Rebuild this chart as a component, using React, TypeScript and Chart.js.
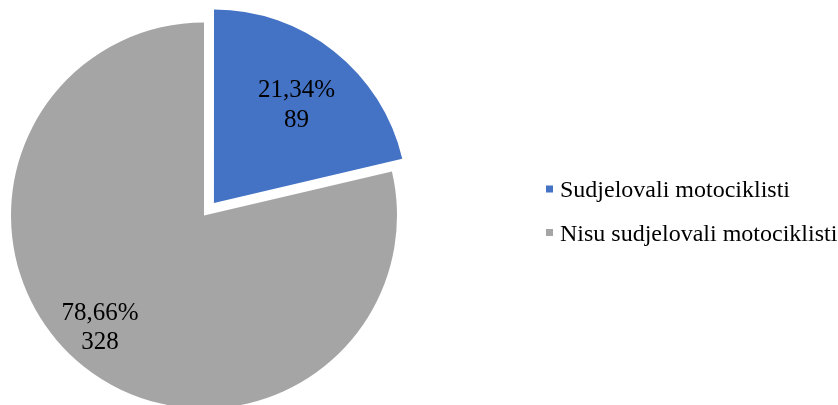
import { useEffect, useRef } from "react";
import { Chart, registerables } from "chart.js";

Chart.register(...registerables);

const categories = ["Sudjelovali motociklisti", "Nisu sudjelovali motociklisti"];
const counts = [89, 328];
const colors = ["#4472C4", "#A5A5A5"];

const FONT = "'Liberation Serif', 'Times New Roman', serif";

const pieLabelsPlugin = {
  id: "pieLabels",
  afterDatasetsDraw(chart: any, _args: any, opts: any) {
    const meta = chart.getDatasetMeta(0);
    const data = chart.data.datasets[0].data as number[];
    const total = data.reduce((a, b) => a + b, 0);
    const ctx = chart.ctx as CanvasRenderingContext2D;
    ctx.save();
    ctx.font = `${opts.size}px ${FONT}`;
    ctx.fillStyle = opts.color;
    ctx.textAlign = "center";
    ctx.textBaseline = "alphabetic";
    meta.data.forEach((arc: any, i: number) => {
      const p = arc.getProps(["x", "y", "startAngle", "endAngle", "outerRadius"], true);
      const mid = (p.startAngle + p.endAngle) / 2 + ((opts.angleShift[i] || 0) * Math.PI) / 180;
      const r = p.outerRadius * opts.radial[i];
      const cx = p.x + Math.cos(mid) * r;
      const cy = p.y + Math.sin(mid) * r;
      const pct = ((data[i] / total) * 100).toFixed(2).replace(".", ",") + "%";
      const b1 = cy - opts.lineGap / 2 + opts.digitH / 2;
      ctx.fillText(pct, cx, b1);
      ctx.fillText(String(data[i]), cx, b1 + opts.lineGap);
    });
    ctx.restore();
  },
};

const legendPlugin = {
  id: "sideLegend",
  afterDraw(chart: any, _args: any, opts: any) {
    const ctx = chart.ctx as CanvasRenderingContext2D;
    const labels = chart.data.labels as string[];
    const bg = chart.data.datasets[0].backgroundColor as string[];
    ctx.save();
    ctx.font = `${opts.size}px ${FONT}`;
    ctx.textAlign = "left";
    ctx.textBaseline = "alphabetic";
    labels.forEach((lab, i) => {
      const base = opts.y + i * opts.rowGap;
      ctx.fillStyle = bg[i];
      ctx.fillRect(opts.x, base - opts.boxLift, opts.box, opts.box);
      ctx.fillStyle = opts.color;
      ctx.fillText(lab, opts.textX, base);
    });
    ctx.restore();
  },
};

export default function App() {
  const ref = useRef<HTMLCanvasElement | null>(null);
  useEffect(() => {
    if (!ref.current) return;
    const chart = new Chart(ref.current, {
      type: "pie",
      data: {
        labels: categories,
        datasets: [
          {
            data: counts,
            backgroundColor: colors,
            borderWidth: 0,
            offset: [64, 0],
            clip: false,
          } as any,
        ],
      },
      options: {
        responsive: false,
        animation: false,
        events: [],
        radius: 193,
        layout: { padding: { left: 0, right: 430, top: 26, bottom: 0 } },
        plugins: {
          legend: { display: false },
          tooltip: { enabled: false },
          pieLabels: {
            size: 25,
            color: "#000000",
            lineGap: 29.5,
            digitH: 17,
            radial: [0.753, 0.786],
            angleShift: [1.1, 4.9],
          },
          sideLegend: {
            size: 24,
            color: "#000000",
            x: 546,
            textX: 560,
            y: 197,
            rowGap: 43.5,
            box: 7,
            boxLift: 11.5,
          },
        } as any,
      } as any,
      plugins: [pieLabelsPlugin, legendPlugin],
    });
    return () => chart.destroy();
  }, []);
  return (
    <div style={{ position: "absolute", left: 0, top: 0, width: 838, height: 405, background: "#ffffff" }}>
      <canvas ref={ref} width={838} height={405} style={{ display: "block" }} />
    </div>
  );
}
